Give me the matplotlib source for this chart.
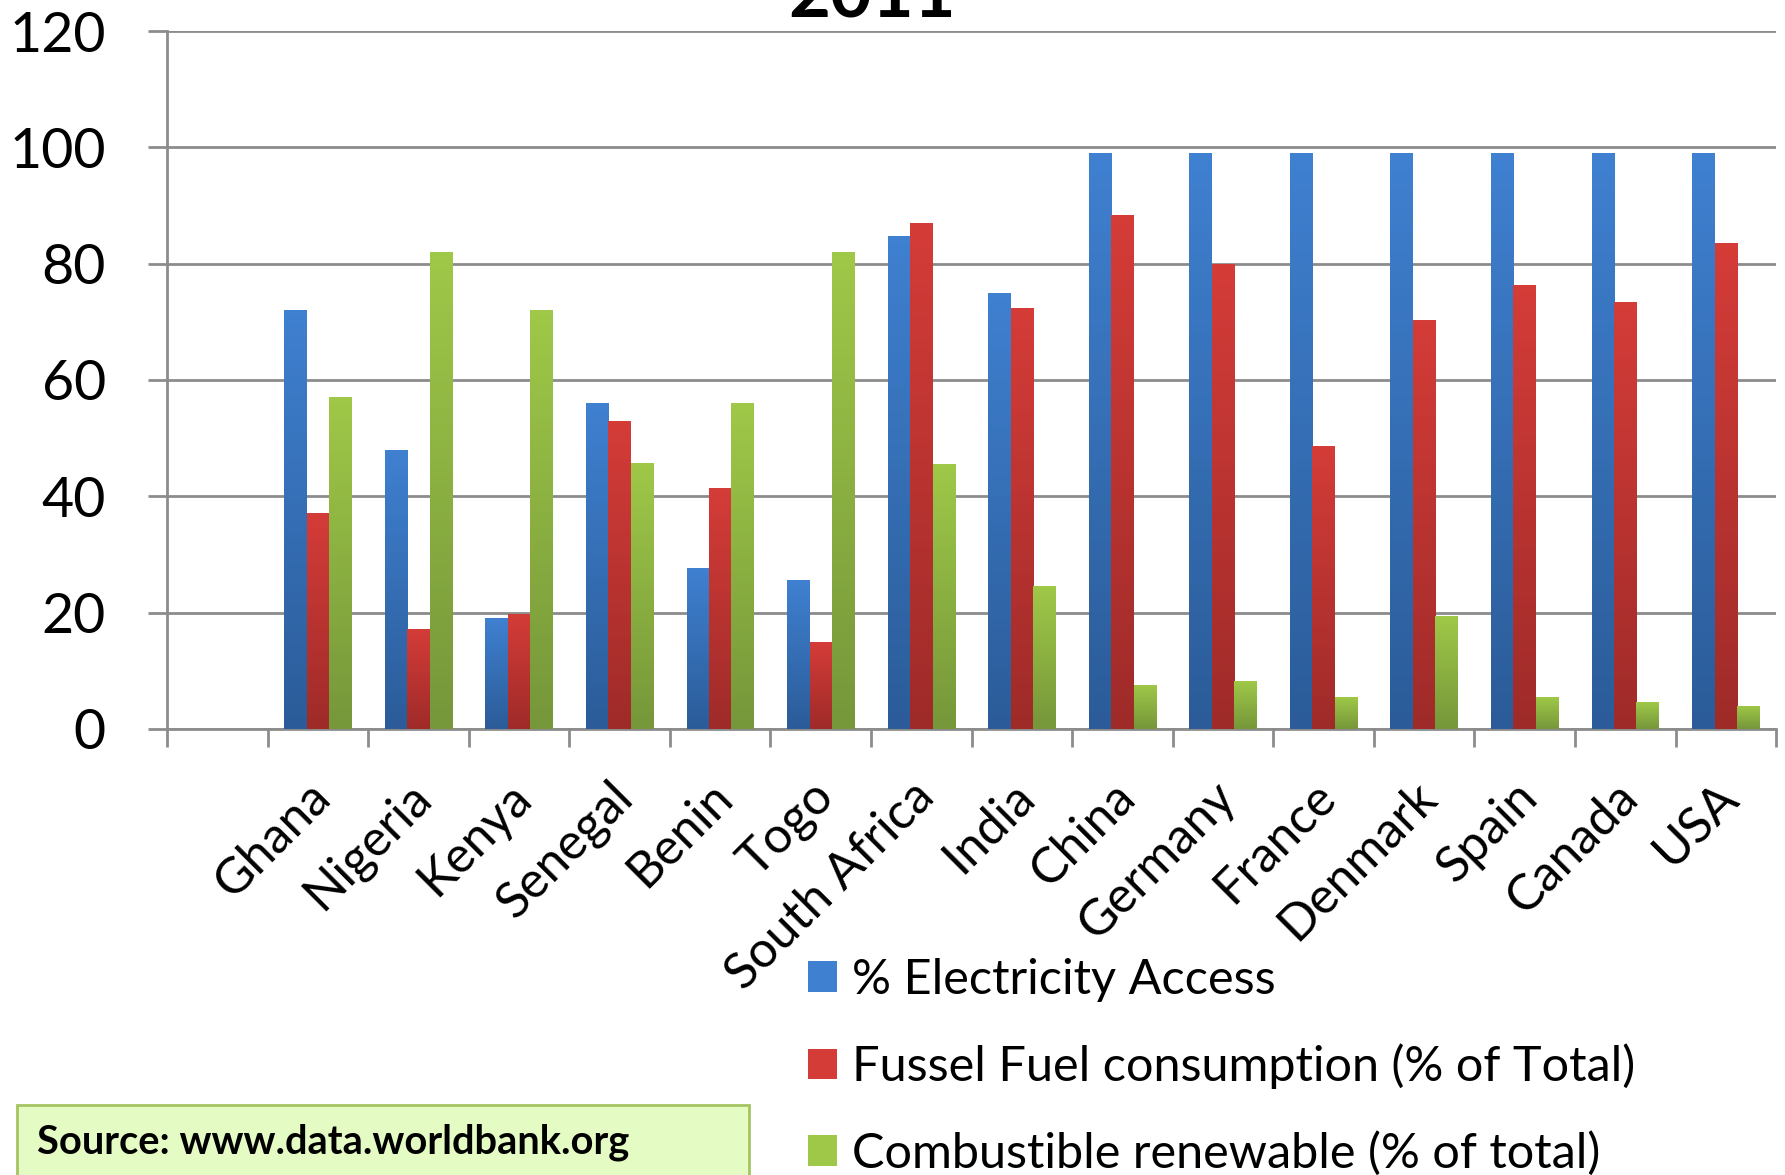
import matplotlib.pyplot as plt
import numpy as np
from matplotlib.patches import Patch, Rectangle
from matplotlib.colors import LinearSegmentedColormap

plt.rcParams['font.family'] = ['Lato', 'DejaVu Sans']

countries = ['', 'Ghana', 'Nigeria', 'Kenya', 'Senegal', 'Benin', 'Togo', 'South Africa',
             'India', 'China', 'Germany', 'France', 'Denmark', 'Spain', 'Canada', 'USA']
elec_access = [0, 72, 48, 19, 56, 27.6, 25.6, 84.8, 75, 99, 99, 99, 99, 99, 99, 99]
fossil_fuel = [0, 37.2, 17.2, 19.8, 53, 41.5, 14.9, 87, 72.4, 88.3, 80, 48.7, 70.4, 76.4, 73.4, 83.6]
renewable = [0, 57, 82, 72, 45.8, 56, 82, 45.6, 24.5, 7.6, 8.2, 5.5, 19.4, 5.5, 4.6, 4]
series_names = ['% Electricity Access', 'Fussel Fuel consumption (% of Total)',
                'Combustible renewable (% of total)']

# top colour, bottom colour of each series gradient
grads = [('#3f80d0', '#2b5c99'), ('#d43c38', '#9f2b29'), ('#9fc848', '#76973a')]

fig = plt.figure(figsize=(17.85, 11.75), dpi=100)
ax = fig.add_axes([0.0936, 0.3796, 0.9014, 0.594])

x = np.arange(len(countries))
w = 0.223
for i, vals in enumerate([elec_access, fossil_fuel, renewable]):
    cmap = LinearSegmentedColormap.from_list('g%d' % i, [grads[i][1], grads[i][0]])
    bars = ax.bar(x + (i - 1) * w, vals, w, color=grads[i][0], zorder=3)
    for b in bars:
        h = b.get_height()
        if h <= 0:
            continue
        x0 = b.get_x()
        img = ax.imshow(np.linspace(0, 1, 64).reshape(-1, 1), cmap=cmap, origin='lower',
                        extent=[x0, x0 + b.get_width(), 0, h], aspect='auto', zorder=4)
        img.set_clip_path(b)

ax.set_xlim(-0.5, len(countries) - 0.5)
ax.set_ylim(0, 120)
ax.set_yticks(range(0, 121, 20))
ax.grid(axis='y', color='#8c8c8c', linewidth=2, zorder=0)
ax.set_axisbelow(True)

# labels sit a little left of the category centre, like the original
ax.set_xticks(x - 0.11)
ax.set_xticklabels(countries, rotation=45, ha='right', rotation_mode='anchor', fontsize=36)
ax.set_xticks(np.arange(-0.5, len(countries)), minor=True)
ax.tick_params(axis='x', which='major', length=0, pad=32)
ax.tick_params(axis='x', which='minor', length=13, width=2, color='#8c8c8c')
ax.tick_params(axis='y', labelsize=40, length=14, width=2, color='#8c8c8c', pad=30)

for s in ['top', 'right']:
    ax.spines[s].set_visible(False)
for s in ['left', 'bottom']:
    ax.spines[s].set_color('#8c8c8c')
    ax.spines[s].set_linewidth(2)

fig.text(0.4885, 1 - 17 / 1175, '2011', fontsize=52, fontweight='bold',
         ha='center', va='baseline')

handles = [Patch(facecolor=g[0], edgecolor='none') for g in grads]
fig.legend(handles, series_names, loc='upper left', bbox_to_anchor=(0.4527, 0.185),
           frameon=False, fontsize=35, handlelength=0.6, handleheight=0.6,
           handletextpad=0.3, labelspacing=0.86, borderpad=0, borderaxespad=0)

box = Rectangle((17 / 1785, -0.05), 732 / 1785, 0.05 + 70 / 1175, transform=fig.transFigure,
                facecolor='#e4fbc4', edgecolor='#a5c563', linewidth=2)
fig.patches.append(box)
fig.text(37 / 1785, 1 - 1142 / 1175, 'Source: www.data.worldbank.org', fontsize=28.7,
         fontweight='bold', ha='left', va='center')

fig.savefig('out.png', dpi=100)
